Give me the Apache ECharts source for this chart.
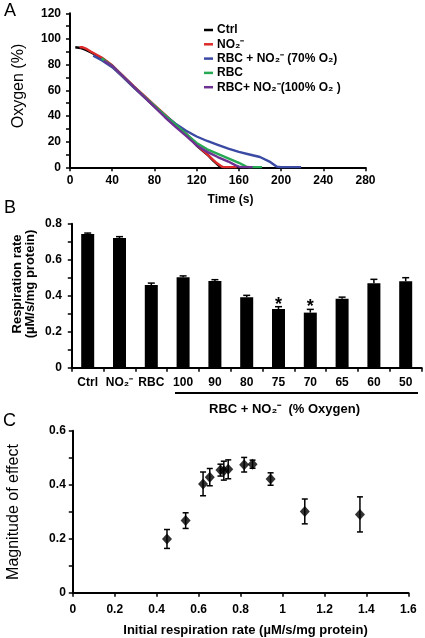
<!DOCTYPE html>
<html>
<head>
<meta charset="utf-8">
<script src="https://cdn.jsdelivr.net/npm/echarts@6/dist/echarts.min.js"></script>
<style>
html,body{margin:0;padding:0;background:#fff;}
#chart{width:425px;height:638px;}
</style>
</head>
<body>
<div id="chart"></div>
<script>
// ---------- Panel A: oxygen traces ----------
const ctrlTime = [5,10,15,20,30,40,50,60,70,80,90,100,110,120,130,136,142,143];
const ctrlO2   = [93.5,93,91.5,89.5,85,79,71,63,55,47.5,40,33,26,17,10,5,0.5,0];
const nitTime  = [9,12,15,20,30,40,50,60,70,80,90,100,110,120,130,138,144,146,158];
const nitO2    = [93.5,93.5,92.5,90,85.5,79.5,71.5,63.5,56,48.5,41,33.5,26,17.5,10,4,0.5,0,0];
const rbcNit70Time = [22,30,40,50,60,70,80,90,100,110,120,130,140,150,160,170,180,190,196,200,219];
const rbcNit70O2   = [87,83.5,78,70.5,62.5,55,47.5,40.5,34,28.5,24,20.5,17.5,14.5,12,10,8,4,0.5,0,0];
const rbcTime  = [30,40,50,60,70,80,90,100,110,120,130,140,150,160,167,170,182];
const rbcO2    = [85,79,71,63,55.5,48,40.5,33.5,26,19,14,10.5,7,3.5,0.5,0,0];
const rbcNit100Time = [32,40,50,60,70,80,90,100,110,120,130,140,150,157,160,163,173];
const rbcNit100O2   = [83,79,71,63,55,47,39,31.5,24.5,17,12,8,4.5,1.5,0.5,0,0];
const legendNames = ['Ctrl','NO₂⁻','RBC + NO₂⁻ (70% O₂)','RBC','RBC+ NO₂⁻(100% O₂ )'];

// ---------- Panel B: respiration rate ----------
const rateCategories = ['Ctrl','NO₂⁻','RBC','100','90','80','75','70','65','60','50'];
const rateValues = [0.743,0.72,0.459,0.502,0.482,0.391,0.326,0.306,0.383,0.469,0.48];
const rateErrors = [0.005,0.008,0.011,0.008,0.007,0.011,0.013,0.018,0.009,0.022,0.02];
const rateSignificance = ['','','','','','','*','*','','',''];

// ---------- Panel C: magnitude of effect ----------
const initRate   = [0.449,0.538,0.621,0.653,0.704,0.72,0.741,0.817,0.857,0.943,1.106,1.369];
const magnitude  = [0.199,0.267,0.403,0.428,0.454,0.452,0.457,0.474,0.476,0.421,0.301,0.29];
const magnitudeErr = [0.035,0.029,0.044,0.032,0.022,0.035,0.035,0.027,0.015,0.023,0.046,0.065];

const FONT = '"Liberation Sans", Arial, Helvetica, sans-serif';
const chart = echarts.init(document.getElementById('chart'), null, {renderer:'canvas'});

function pairs(xs, ys){ return xs.map((x,i)=>[x, ys[i]]); }

function valueAxis(idx, min, max, interval, extra){
  return Object.assign({
    type:'value', gridIndex: idx, min, max, interval,
    axisLine:{show:true, onZero:false, lineStyle:{color:'#000', width:2}},
    axisTick:{show:true, length:4, lineStyle:{color:'#000', width:1.5}},
    axisLabel:{color:'#000', fontWeight:'bold', fontSize:12, fontFamily:FONT},
    splitLine:{show:false}
  }, extra || {});
}
const minor = {show:true, splitNumber:2, length:4, lineStyle:{color:'#000', width:1.5}};

const lineColors = ['#000000','#dd2a2a','#3b4aa3','#27a853','#6e3192'];
const traces = [
  pairs(ctrlTime, ctrlO2),
  pairs(nitTime, nitO2),
  pairs(rbcNit70Time, rbcNit70O2),
  pairs(rbcTime, rbcO2),
  pairs(rbcNit100Time, rbcNit100O2)
];
const lineSeries = traces.map((d,i)=>({
  name: legendNames[i], type:'line', xAxisIndex:0, yAxisIndex:0,
  data:d, showSymbol:false, symbol:'rect', smooth:false,
  lineStyle:{color:lineColors[i], width:2.4}, itemStyle:{color:lineColors[i]},
  animation:false
}));

function errBarRender(upperOnly, capHalf){
  return function(params, api){
    const x = api.value(0), lo = api.value(1), hi = api.value(2);
    const pLo = api.coord([x, lo]), pHi = api.coord([x, hi]);
    const st = {stroke:'#000', lineWidth:1.5};
    const children = [
      {type:'line', shape:{x1:pLo[0], y1:pLo[1], x2:pHi[0], y2:pHi[1]}, style:st},
      {type:'line', shape:{x1:pHi[0]-capHalf, y1:pHi[1], x2:pHi[0]+capHalf, y2:pHi[1]}, style:st}
    ];
    if(!upperOnly){
      children.push({type:'line', shape:{x1:pLo[0]-capHalf, y1:pLo[1], x2:pLo[0]+capHalf, y2:pLo[1]}, style:st});
    }
    return {type:'group', children};
  };
}

const option = {
  animation:false,
  textStyle:{fontFamily:FONT},
  grid:[
    {left:70, top:13.3, width:295.5, height:154},
    {left:71.8, top:223.7, width:349.8, height:144},
    {left:72.8, top:430.7, width:335.6, height:162}
  ],
  legend:{
    data:legendNames, orient:'vertical', left:199, top:18,
    itemWidth:9, itemHeight:2.5, itemGap:0.3, icon:'rect',
    textStyle:{color:'#000', fontWeight:'bold', fontSize:12, fontFamily:FONT, lineHeight:14, padding:[0,0,0,-1]},
    selectedMode:false
  },
  xAxis:[
    valueAxis(0, 0, 280, 40, {axisLabel:{color:'#000', fontWeight:'bold', fontSize:12, fontFamily:FONT, margin:7}}),
    {type:'category', gridIndex:1, data:rateCategories,
      axisLine:{show:true, lineStyle:{color:'#000', width:2}},
      axisTick:{show:true, length:4, lineStyle:{color:'#000', width:1.5}},
      axisLabel:{color:'#000', fontWeight:'bold', fontSize:12, fontFamily:FONT, interval:0, margin:9}},
    valueAxis(2, 0, 1.6, 0.2, {axisLabel:{color:'#000', fontWeight:'bold', fontSize:12, fontFamily:FONT, margin:11,
      formatter:v=>String(Math.round(v*10)/10)}})
  ],
  yAxis:[
    valueAxis(0, 0, 120, 20, {minorTick:minor, axisLabel:{color:'#000', fontWeight:'bold', fontSize:12, fontFamily:FONT, margin:9}}),
    valueAxis(1, 0, 0.8, 0.2, {minorTick:minor, axisLabel:{color:'#000', fontWeight:'bold', fontSize:12, fontFamily:FONT, margin:10,
      formatter:v=>String(Math.round(v*10)/10)}}),
    valueAxis(2, 0, 0.6, 0.2, {minorTick:minor, axisLabel:{color:'#000', fontWeight:'bold', fontSize:12, fontFamily:FONT, margin:7,
      formatter:v=>String(Math.round(v*10)/10)}})
  ],
  series: lineSeries.concat([
    {type:'bar', xAxisIndex:1, yAxisIndex:1, data:rateValues, barWidth:13,
      itemStyle:{color:'#000'}},
    {type:'custom', xAxisIndex:1, yAxisIndex:1, z:5,
      data:rateValues.map((v,i)=>[i, v, v+rateErrors[i]]),
      encode:{x:0, y:[1,2]},
      renderItem:errBarRender(true, 3.5)},
    {type:'custom', xAxisIndex:1, yAxisIndex:1, z:6,
      data:rateValues.map((v,i)=>[i, v+rateErrors[i], rateSignificance[i]]),
      encode:{x:0, y:1},
      renderItem:function(params, api){
        const i = params.dataIndex;
        if(!rateSignificance[i]) return null;
        const p = api.coord([api.value(0), api.value(1)]);
        return {type:'text', x:p[0], y:p[1]-2,
          style:{text:rateSignificance[i], fontSize:18, fontWeight:'bold', fontFamily:FONT, fill:'#000',
            align:'center', verticalAlign:'middle'}};
      }},
    {type:'custom', xAxisIndex:2, yAxisIndex:2, z:4,
      data:initRate.map((x,i)=>[x, magnitude[i]-magnitudeErr[i], magnitude[i]+magnitudeErr[i]]),
      encode:{x:0, y:[1,2]},
      renderItem:errBarRender(false, 3)},
    {type:'scatter', xAxisIndex:2, yAxisIndex:2, z:5,
      data:pairs(initRate, magnitude), symbol:'diamond', symbolSize:[10,11],
      itemStyle:{color:'#000'}}
  ]),
  graphic:[
    {type:'text', x:4, y:11, style:{text:'A', fontSize:18, fontFamily:FONT, fill:'#000', align:'left', verticalAlign:'middle'}},
    {type:'text', x:4, y:208, style:{text:'B', fontSize:18, fontFamily:FONT, fill:'#000', align:'left', verticalAlign:'middle'}},
    {type:'text', x:3, y:421, style:{text:'C', fontSize:18, fontFamily:FONT, fill:'#000', align:'left', verticalAlign:'middle'}},
    {type:'text', x:18.5, y:86, rotation:Math.PI/2, style:{text:'Oxygen (%)', fontSize:16, fontFamily:FONT, fill:'#000', align:'center', verticalAlign:'middle'}},
    {type:'text', x:230.5, y:200, style:{text:'Time (s)', fontSize:12, fontWeight:'bold', fontFamily:FONT, fill:'#000', align:'center', verticalAlign:'middle'}},
    {type:'text', x:23.5, y:284, rotation:Math.PI/2, style:{text:'Respiration rate\n(µM/s/mg protein)', fontSize:13, lineHeight:13, fontWeight:'bold', fontFamily:FONT, fill:'#000', align:'center', verticalAlign:'middle'}},
    {type:'line', shape:{x1:175, y1:393, x2:418, y2:393}, style:{stroke:'#000', lineWidth:2}},
    {type:'text', x:284.5, y:409, style:{text:'RBC + NO₂⁻  (% Oxygen)', fontSize:13, fontWeight:'bold', fontFamily:FONT, fill:'#000', align:'center', verticalAlign:'middle'}},
    {type:'text', x:14, y:512, rotation:Math.PI/2, style:{text:'Magnitude of effect', fontSize:16, fontFamily:FONT, fill:'#000', align:'center', verticalAlign:'middle'}},
    {type:'text', x:245.5, y:630, style:{text:'Initial respiration rate (µM/s/mg protein)', fontSize:13, fontWeight:'bold', fontFamily:FONT, fill:'#000', align:'center', verticalAlign:'middle'}}
  ]
};
chart.setOption(option);
</script>
</body>
</html>
